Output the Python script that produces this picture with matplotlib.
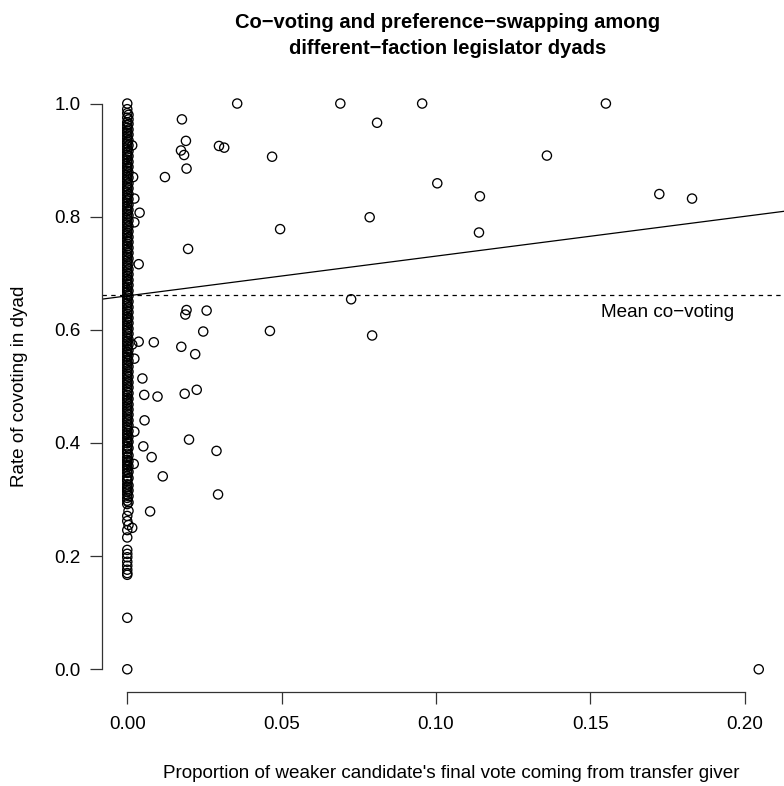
import matplotlib
matplotlib.use("Agg")
import matplotlib.pyplot as plt

plt.rcParams['font.family'] = ['Liberation Sans', 'DejaVu Sans']

# ---- data ----
# dyads with zero transfer proportion: co-voting rates
col_y = [0.0, 0.091, 0.167, 0.170, 0.176, 0.183, 0.190, 0.198, 0.204, 0.211,
         0.233, 0.246, 0.262, 0.271, 0.292, 0.298, 0.303, 0.309, 0.314, 0.318,
         0.322, 0.327, 0.333, 0.336, 0.341, 0.347, 0.352, 0.357, 0.361, 0.366,
         0.370, 0.375, 0.381, 0.385, 0.389, 0.394, 0.400, 0.404, 0.409, 0.414,
         0.418, 0.423, 0.428, 0.433, 0.438, 0.442, 0.447, 0.452, 0.457, 0.461,
         0.466, 0.471, 0.476, 0.480, 0.485, 0.490, 0.495, 0.500, 0.505, 0.509,
         0.514, 0.519, 0.523, 0.528, 0.533, 0.538, 0.542, 0.547, 0.552, 0.557,
         0.561, 0.566, 0.571, 0.576, 0.580, 0.585, 0.590, 0.595, 0.600, 0.604,
         0.609, 0.614, 0.619, 0.623, 0.628, 0.633, 0.638, 0.643, 0.647, 0.652,
         0.657, 0.662, 0.667, 0.671, 0.676, 0.681, 0.686, 0.690, 0.695, 0.700,
         0.705, 0.710, 0.714, 0.719, 0.724, 0.729, 0.733, 0.738, 0.743, 0.748,
         0.752, 0.757, 0.762, 0.767, 0.771, 0.776, 0.781, 0.786, 0.790, 0.795,
         0.800, 0.805, 0.810, 0.814, 0.819, 0.824, 0.829, 0.833, 0.838, 0.843,
         0.848, 0.852, 0.857, 0.862, 0.867, 0.871, 0.876, 0.881, 0.886, 0.890,
         0.895, 0.900, 0.905, 0.909, 0.914, 0.919, 0.924, 0.929, 0.933, 0.938,
         0.943, 0.948, 0.952, 0.957, 0.962, 0.967, 0.975, 0.983, 0.990, 1.0]

# dyads with a tiny (near-zero) transfer proportion
tiny_x = 0.0004
tiny_y = [0.255, 0.280, 0.295, 0.306, 0.316, 0.325, 0.338, 0.349, 0.359, 0.368,
          0.378, 0.391, 0.402, 0.411, 0.421, 0.431, 0.440, 0.450, 0.459, 0.468,
          0.478, 0.488, 0.498, 0.507, 0.517, 0.526, 0.535, 0.545, 0.555, 0.564,
          0.574, 0.583, 0.593, 0.602, 0.612, 0.621, 0.631, 0.640, 0.650, 0.660,
          0.669, 0.679, 0.688, 0.698, 0.707, 0.717, 0.726, 0.736, 0.745, 0.755,
          0.764, 0.774, 0.783, 0.793, 0.802, 0.812, 0.821, 0.831, 0.840, 0.850,
          0.859, 0.869, 0.878, 0.888, 0.897, 0.907, 0.916, 0.926, 0.935, 0.945,
          0.954, 0.964, 0.972, 0.980]

# dyads with non-zero transfer proportion
pts_x = [0.0016, 0.0019, 0.0023, 0.0040, 0.0023, 0.0037, 0.0037, 0.0016, 0.0023,
         0.0049, 0.0055, 0.0056, 0.0023, 0.0052, 0.0021, 0.0016, 0.0086, 0.0098,
         0.0079, 0.0115, 0.0074, 0.0122,
         0.0177, 0.0190, 0.0174, 0.0184, 0.0192, 0.0197, 0.0192, 0.0188, 0.0257,
         0.0246, 0.0175, 0.0220, 0.0186, 0.0225, 0.0200, 0.0289, 0.0294, 0.0297,
         0.0314, 0.0356, 0.0462, 0.0469, 0.0495, 0.0690, 0.0725, 0.0785, 0.0793,
         0.0809, 0.0955, 0.1004, 0.1139, 0.1142, 0.1359, 0.1550, 0.1723, 0.1829,
         0.2045]
pts_y = [0.926, 0.870, 0.832, 0.807, 0.790, 0.716, 0.579, 0.574, 0.549,
         0.514, 0.485, 0.440, 0.420, 0.394, 0.363, 0.250, 0.578, 0.482,
         0.375, 0.341, 0.279, 0.870,
         0.972, 0.934, 0.917, 0.909, 0.885, 0.743, 0.635, 0.627, 0.634,
         0.597, 0.570, 0.557, 0.487, 0.494, 0.406, 0.386, 0.309, 0.925,
         0.922, 1.0, 0.598, 0.906, 0.778, 1.0, 0.654, 0.799, 0.590,
         0.966, 1.0, 0.859, 0.772, 0.836, 0.908, 1.0, 0.840, 0.832,
         0.0]

fit_intercept = 0.660
fit_slope = 0.703
mean_covoting = 0.662

x_ticks = [0.00, 0.05, 0.10, 0.15, 0.20]
x_ticklabels = ["0.00", "0.05", "0.10", "0.15", "0.20"]
y_ticks = [0.0, 0.2, 0.4, 0.6, 0.8, 1.0]
y_ticklabels = ["0.0", "0.2", "0.4", "0.6", "0.8", "1.0"]

W, H = 784, 786
fig = plt.figure(figsize=(W / 100, H / 100), dpi=100)
ax = fig.add_axes([102 / W, (H - 691.9) / H, (784 - 102) / W, (691.9 - 80.9) / H])

all_x = [0.0] * len(col_y) + [tiny_x] * len(tiny_y) + pts_x
all_y = col_y + tiny_y + pts_y
ax.scatter(all_x, all_y, s=44, facecolors='none', edgecolors='black',
           linewidths=0.95, zorder=3)

xmax = max(all_x)
ax.set_xlim(-0.04 * xmax, xmax * 1.04)
ax.set_ylim(-0.04, 1.04)

ax.axline((0, fit_intercept), slope=fit_slope, color='black', lw=0.9)
ax.axhline(mean_covoting, color='black', lw=0.9, dashes=(3.5, 3.5))
ax.text(0.175, 0.630, "Mean co\u2212voting", ha='center', va='center', fontsize=13.6)

for s in ['top', 'right']:
    ax.spines[s].set_visible(False)
ax.spines['left'].set_bounds(0, 1)
ax.spines['bottom'].set_bounds(0, 0.2)
for s in ['left', 'bottom']:
    ax.spines[s].set_linewidth(0.9)
    ax.spines[s].set_color('#333333')

ax.set_xticks(x_ticks)
ax.set_xticklabels(x_ticklabels)
ax.set_yticks(y_ticks)
ax.set_yticklabels(y_ticklabels)
ax.tick_params(axis='both', length=8.6, width=0.9, color='#333333',
               labelsize=13.6, pad=7)
ax.tick_params(axis='x', pad=9)

fig.text(448 / W, 1 - 22 / H, "Co\u2212voting and preference\u2212swapping among",
         ha='center', va='center', fontsize=14.5, fontweight='bold')
fig.text(448 / W, 1 - 48 / H, "different\u2212faction legislator dyads",
         ha='center', va='center', fontsize=14.5, fontweight='bold')
fig.text(451 / W, 1 - 773 / H,
         "Proportion of weaker candidate's final vote coming from transfer giver",
         ha='center', va='center', fontsize=13.6)
fig.text(20 / W, 1 - 386 / H, "Rate of covoting in dyad", ha='center', va='center',
         rotation=90, fontsize=13.6)

fig.savefig("out.png", dpi=100)
